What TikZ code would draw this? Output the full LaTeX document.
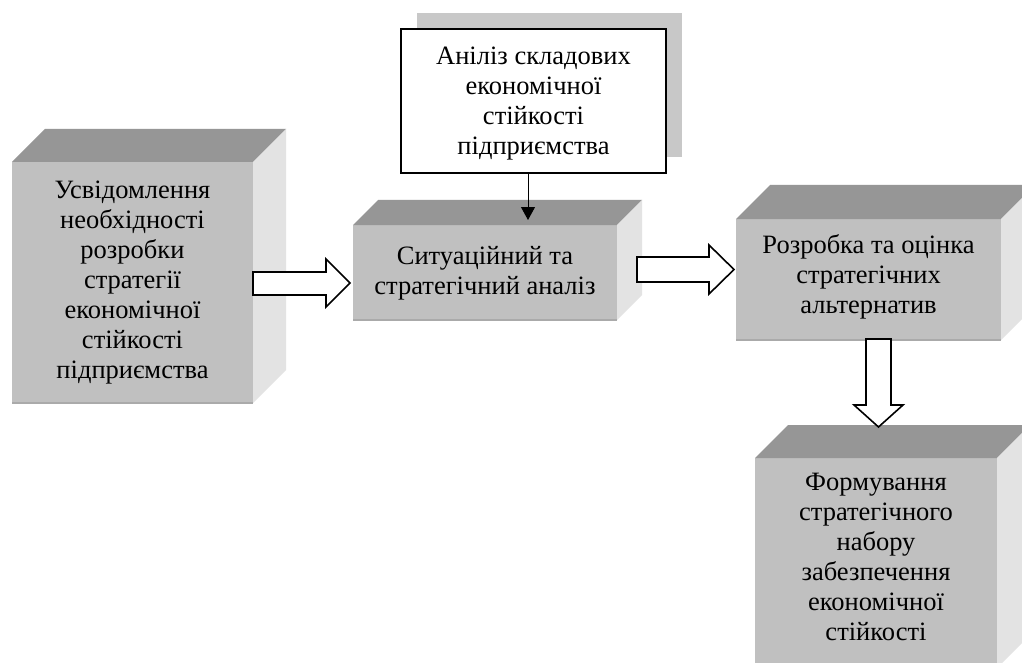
\documentclass[tikz,border=0pt]{standalone}
\usepackage{fontspec}
\setmainfont{Liberation Serif}
\usetikzlibrary{arrows.meta}
\definecolor{frontc}{RGB}{192,192,192}
\definecolor{topc}{RGB}{150,150,150}
\definecolor{sidec}{RGB}{227,227,227}
\definecolor{shadc}{RGB}{200,200,200}
\definecolor{edgec}{RGB}{170,170,170}
\newcommand\cubefaces[5]{%
  \fill[frontc] (#1,#2) rectangle (#3,#4);
  \fill[topc] (#1,#2) -- (#1+#5,#2-#5) -- (#3+#5,#2-#5) -- (#3,#2) -- cycle;
  \fill[sidec] (#3,#2) -- (#3+#5,#2-#5) -- (#3+#5,#4-#5) -- (#3,#4) -- cycle;
  \draw[edgec, line width=1.5] (#1,#4) -- (#3,#4);
}
\tikzset{
  txt/.style={align=center, font=\fontsize{26.5}{30}\selectfont, inner sep=0pt},
  blk/.style={draw=black, fill=white, line width=1.6, line join=miter},
}
\begin{document}
\begin{tikzpicture}[x=1pt,y=-1pt]
\useasboundingbox (0,0) rectangle (1022,663);
\fill[white] (0,0) rectangle (1022,663);
\clip (0,0) rectangle (1022,663);
% cubes
\cubefaces{12}{162}{253}{403}{33}
\cubefaces{353}{225}{617}{320}{25}
\cubefaces{736}{219}{1001}{340}{34}
\cubefaces{755}{458}{997}{668}{33}
\node[txt] (t1) at (132.5,282.5) {Усвідомлення\\необхідності\\розробки\\стратегії\\економічної\\стійкості\\підприємства};
\node[txt] (t2) at (485,273) {Ситуаційний та\\стратегічний аналіз};
\node[txt] (t3) at (868.5,277) {Розробка та оцінка\\стратегічних\\альтернатив};
\node[txt] (t4) at (876,557) {Формування\\стратегічного\\набору\\забезпечення\\економічної\\стійкості};
% top box with shadow
\fill[shadc] (417,13) rectangle (682,157);
\draw[draw=black, fill=white, line width=1.5] (401,29) rectangle (666,173);
\node[txt] (an) at (533.5,104) {Аніліз складових\\економічної\\стійкості\\підприємства};
\coordinate (anb) at (528,173);
\coordinate (b2top) at (528,220);
\draw[line width=1, -{Triangle[length=13pt,width=14pt]}] (anb) -- (b2top);
% block arrows
\draw[blk] (253,272) -- (326,272) -- (326,259) -- (350,283) -- (326,307) -- (326,295) -- (253,295) -- cycle;
\draw[blk] (637,257) -- (709,257) -- (709,245) -- (734,269.5) -- (709,294) -- (709,282) -- (637,282) -- cycle;
\draw[blk] (866,339) -- (866,405) -- (854,405) -- (878.5,427) -- (903,405) -- (891,405) -- (891,339) -- cycle;
\end{tikzpicture}
\end{document}
